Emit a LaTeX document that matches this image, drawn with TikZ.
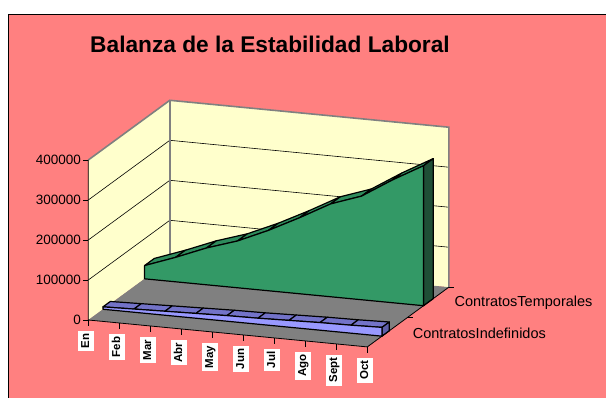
\documentclass[tikz,border=0pt]{standalone}
\usepackage{fontspec}
\setmainfont{Liberation Sans}

\definecolor{chartbg}{HTML}{FF8080}
\definecolor{wallfill}{HTML}{FFFFCC}
\definecolor{floorfill}{HTML}{808080}
\definecolor{tempfront}{HTML}{339966}
\definecolor{temptop}{HTML}{2E8B5C}
\definecolor{tempside}{HTML}{1F4F36}
\definecolor{indfront}{HTML}{9999FF}
\definecolor{indtop}{HTML}{7373C8}
\definecolor{indside}{HTML}{5E5EA8}

\tikzset{
  gridline/.style={black,line width=0.6pt},
  walledge/.style={floorfill,line width=1.6pt},
  axisline/.style={black,line width=0.8pt},
  ribbon/.style={draw=black,line width=1.2pt,line join=round},
  vallab/.style={left,inner sep=2pt,font=\fontsize{13.5}{14}\selectfont},
  monthlab/.style={fill=white,rotate=90,anchor=east,inner sep=3pt,text height=8.5pt,text depth=2pt,font=\bfseries\fontsize{11.5}{12}\selectfont},
  serieslab/.style={anchor=west,inner sep=0pt,font=\fontsize{14.5}{15}\selectfont},
}

\begin{document}
\begin{tikzpicture}[x=1pt,y=1pt]
\useasboundingbox (0,0) rectangle (606,397);
\fill[white] (0,0) rectangle (606,397);
% chart area
\draw[fill=chartbg,line width=1pt] (8,382) rectangle (620,-10);
\node[font=\bfseries\fontsize{22.7}{26}\selectfont,anchor=base] (title) at (270,344) {Balanza de la Estabilidad Laboral};

% 3D plot: x = month, y = value (x100000), z = depth
\begin{scope}[shift={(88.3,77)},x={(31pt,-2.99pt)},y={(0pt,40pt)},z={(81.5pt,59.7pt)}]
% walls and floor
\fill[wallfill] (0,0,0) -- (0,4,0) -- (0,4,1) -- (0,0,1) -- cycle;
\fill[wallfill] (0,0,1) -- (0,4,1) -- (9,4,1) -- (9,0,1) -- cycle;
\fill[floorfill] (0,0,0) -- (9,0,0) -- (9,0,1) -- (0,0,1) -- cycle;
\foreach \v in {1,2,3}
  \draw[gridline] (0,\v,0) -- (0,\v,1) -- (9,\v,1);
\draw[walledge] (0,4,0) -- (0,4,1) -- (9,4,1) -- (9,0,1);
\draw[walledge] (0,4,1) -- (0,0,1);

% Contratos Temporales
\foreach \i/\j/\a/\b in {0/1/0.33/0.61, 1/2/0.61/0.92, 2/3/0.92/1.17, 3/4/1.17/1.51, 4/5/1.51/1.90,
                         5/6/1.90/2.32, 6/7/2.32/2.59, 7/8/2.59/3.07, 8/9/3.07/3.50}
  \filldraw[ribbon,fill=temptop] (\i,\a,0.69) -- (\j,\b,0.69) -- (\j,\b,0.81) -- (\i,\a,0.81) -- cycle;
\filldraw[ribbon,fill=tempside] (9,0,0.69) -- (9,3.50,0.69) -- (9,3.50,0.81) -- (9,0,0.81) -- cycle;
\filldraw[ribbon,fill=tempfront] (0,0,0.69)
  \foreach \i/\v in {0/0.33,1/0.61,2/0.92,3/1.17,4/1.51,5/1.90,6/2.32,7/2.59,8/3.07,9/3.50} { -- (\i,\v,0.69) }
  -- (9,0,0.69) -- cycle;

% Contratos Indefinidos
\foreach \i/\j/\a/\b in {0/1/0.06/0.08, 1/2/0.08/0.10, 2/3/0.10/0.12, 3/4/0.12/0.14, 4/5/0.14/0.15,
                         5/6/0.15/0.17, 6/7/0.17/0.19, 7/8/0.19/0.20, 8/9/0.20/0.22}
  \filldraw[ribbon,fill=indtop] (\i,\a,0.18) -- (\j,\b,0.18) -- (\j,\b,0.27) -- (\i,\a,0.27) -- cycle;
\filldraw[ribbon,fill=indside] (9,0,0.18) -- (9,0.22,0.18) -- (9,0.22,0.27) -- (9,0,0.27) -- cycle;
\filldraw[ribbon,fill=indfront] (0,0,0.18)
  \foreach \i/\v in {0/0.06,1/0.08,2/0.10,3/0.12,4/0.14,5/0.15,6/0.17,7/0.19,8/0.20,9/0.22} { -- (\i,\v,0.18) }
  -- (9,0,0.18) -- cycle;

% axes
\draw[axisline] (0,4,0) -- (0,0,0) -- (9,0,0) -- (9,0,1);
\foreach \v/\lab in {0/0,1/100000,2/200000,3/300000,4/400000}
  \draw[axisline] (0,\v,0) -- ++(-5pt,0pt) node[vallab] (v\v) {\lab};
\foreach \m [count=\i from 0] in {En,Feb,Mar,Abr,May,Jun,Jul,Ago,Sept,Oct} {
  \draw[axisline] (\i,0,0) -- ++(0pt,-6pt);
  \path (\i,0,0) ++(-2.5pt,-10.5pt) node[monthlab] (m\i) {\m};
}
\foreach \d in {0.5,1}
  \draw[axisline] (9,0,\d) -- ++(5pt,0pt);
\path (9,0,0.25) ++(25pt,-1pt) node[serieslab] (ind) {ContratosIndefinidos};
\path (9,0,0.75) ++(26pt,-1pt) node[serieslab] (temp) {ContratosTemporales};
\end{scope}
\end{tikzpicture}
\end{document}
